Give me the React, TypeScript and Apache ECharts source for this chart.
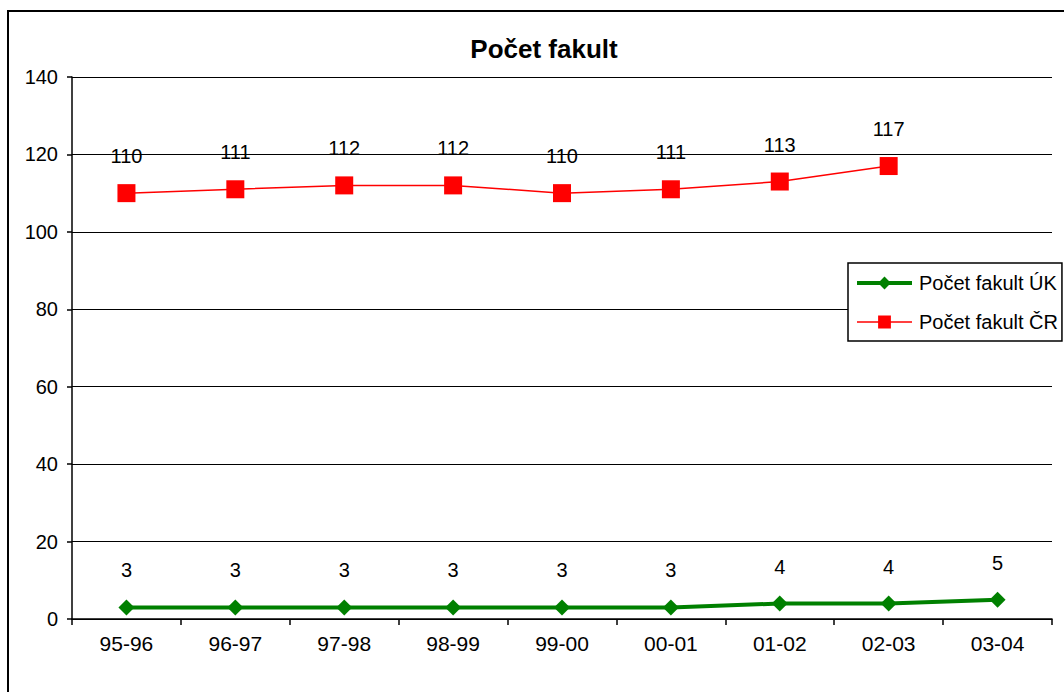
import React, { useEffect, useRef } from "react";
import * as echarts from "echarts";

const categories = ["95-96", "96-97", "97-98", "98-99", "99-00", "00-01", "01-02", "02-03", "03-04"];
const ukValues = [3, 3, 3, 3, 3, 3, 4, 4, 5];
const crValues: (number | null)[] = [110, 111, 112, 112, 110, 111, 113, 117, null];
const titleText = "Počet fakult";
const ukName = "Počet fakult ÚK";
const crName = "Počet fakult ČR";

export default function App() {
  const ref = useRef<HTMLDivElement>(null);
  useEffect(() => {
    document.body.style.margin = "0";
    const chart = echarts.init(ref.current!, null, { renderer: "svg" });
    const font = "Liberation Sans, Arial, sans-serif";
    chart.setOption({
      animation: false,
      textStyle: { fontFamily: font },
      title: {
        text: titleText,
        left: 539,
        top: 31,
        textAlign: "center",
        textStyle: { fontFamily: font, fontSize: 26, fontWeight: "bold", color: "#000" },
      },
      graphic: [
        {
          type: "rect",
          shape: { x: 8, y: 11, width: 1200, height: 800 },
          style: { fill: "none", stroke: "#000", lineWidth: 2 },
          silent: true,
        },
      ],
      grid: { left: 72, right: 12, top: 77, bottom: 73, containLabel: false },
      legend: {
        orient: "vertical",
        left: 848,
        top: 263,
        padding: [10, 4, 9, 7],
        itemGap: 19,
        itemWidth: 55,
        itemHeight: 16,
        borderColor: "#000",
        borderWidth: 1.5,
        backgroundColor: "#fff",
        textStyle: { fontFamily: font, fontSize: 20, color: "#000", padding: [0, 0, 0, 2] },
        data: [
          { name: ukName, lineStyle: { width: 4, color: "#008000" }, itemStyle: { color: "#008000" } },
          { name: crName, lineStyle: { width: 1.5, color: "#ff0000" }, itemStyle: { color: "#ff0000" } },
        ],
      },
      xAxis: {
        type: "category",
        data: categories,
        boundaryGap: true,
        axisLine: { lineStyle: { color: "#000", width: 1.5 } },
        axisTick: { show: true, length: 6, lineStyle: { color: "#000", width: 1.5 } },
        axisLabel: { color: "#000", fontSize: 21, fontFamily: font, margin: 14 },
      },
      yAxis: {
        type: "value",
        min: 0,
        max: 140,
        interval: 20,
        axisLine: { show: true, lineStyle: { color: "#000", width: 1.5 } },
        axisTick: { show: true, length: 5, lineStyle: { color: "#000", width: 1.5 } },
        axisLabel: { color: "#000", fontSize: 20, fontFamily: font, margin: 14 },
        splitLine: { show: true, lineStyle: { color: "#000", width: 1.2 } },
      },
      series: [
        {
          name: ukName,
          type: "line",
          data: ukValues,
          symbol: "diamond",
          symbolSize: 16,
          itemStyle: { color: "#008000" },
          lineStyle: { color: "#008000", width: 4 },
          label: {
            show: true,
            position: "top",
            distance: 19,
            color: "#000",
            fontSize: 20,
            fontFamily: font,
          },
        },
        {
          name: crName,
          type: "line",
          data: crValues,
          symbol: "rect",
          symbolSize: 18,
          itemStyle: { color: "#ff0000" },
          lineStyle: { color: "#ff0000", width: 1.5 },
          label: {
            show: true,
            position: "top",
            distance: 18,
            color: "#000",
            fontSize: 20,
            fontFamily: font,
          },
        },
      ],
    });
    return () => chart.dispose();
  }, []);
  return <div ref={ref} style={{ width: 1064, height: 692 }} />;
}
